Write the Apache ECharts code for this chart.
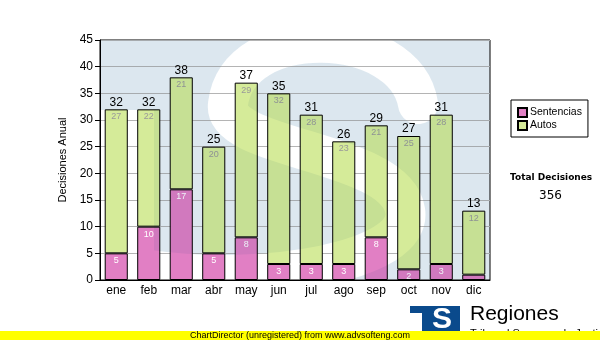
<!DOCTYPE html>
<html>
<head>
<meta charset="utf-8">
<script src="https://cdn.jsdelivr.net/npm/echarts@6/dist/echarts.min.js"></script>
<style>
html,body{margin:0;padding:0;background:#fff;}
#chart{width:600px;height:340px;}
</style>
</head>
<body>
<div id="chart"></div>
<script>
// Decisiones anuales por mes
const months = ['ene','feb','mar','abr','may','jun','jul','ago','sep','oct','nov','dic'];
const sentencias = [5, 10, 17, 5, 8, 3, 3, 3, 8, 2, 3, 1];
const autos = [27, 22, 21, 20, 29, 32, 28, 23, 21, 25, 28, 12];
const yTicks = [0, 5, 10, 15, 20, 25, 30, 35, 40, 45];

const totals = months.map((m, i) => sentencias[i] + autos[i]);
const grandTotal = totals.reduce((a, b) => a + b, 0);

const PL = 100, PT = 40, PW = 390, PH = 240;

const chart = echarts.init(document.getElementById('chart'), null, {renderer: 'canvas'});

// Light logo tint for the plot area; the white "S" is cut out of it.
// Used once under the grid and once multiplied over the bars.
function buildTint() {
  const cv = document.createElement('canvas');
  cv.width = PW; cv.height = PH;
  const ctx = cv.getContext('2d');
  ctx.fillStyle = '#edf3f7';
  ctx.fillRect(0, 0, PW, PH);
  ctx.globalCompositeOperation = 'destination-out';
  ctx.translate(-PL, -PT);
  ctx.fillStyle = '#000';
  ctx.fillRect(PL, 110, 54, 170);
  ctx.strokeStyle = '#000';
  ctx.lineWidth = 40;
  ctx.lineCap = 'round';
  ctx.beginPath();
  ctx.moveTo(418, 104);
  ctx.bezierCurveTo(405, 25, 238, 20, 228, 104);
  ctx.bezierCurveTo(222, 150, 395, 150, 405, 210);
  ctx.bezierCurveTo(415, 262, 260, 286, 150, 270);
  ctx.stroke();
  return cv;
}
const tint = buildTint();

const option = {
  animation: false,
  textStyle: {fontFamily: 'Liberation Sans, Arial, sans-serif'},
  grid: {left: PL, top: PT, width: PW, height: PH, show: true, borderColor: '#000', borderWidth: 1, backgroundColor: 'transparent', containLabel: false},
  legend: {
    data: ['Sentencias', 'Autos'],
    orient: 'vertical',
    left: 511, top: 100,
    padding: [7, 6, 6, 6],
    itemGap: 2,
    itemWidth: 9, itemHeight: 9,
    borderColor: '#000', borderWidth: 1, backgroundColor: '#fff',
    icon: 'rect',
    textStyle: {fontFamily: 'Liberation Sans, Arial, sans-serif', fontSize: 10.5, color: '#000', padding: [0, 0, 0, -2]}
  },
  xAxis: {
    type: 'category', data: months,
    axisLine: {lineStyle: {color: '#000', width: 1}},
    axisTick: {alignWithLabel: true, length: 5, lineStyle: {color: '#000'}},
    axisLabel: {color: '#000', fontSize: 12, margin: 5}
  },
  yAxis: {
    type: 'value', min: 0, max: 45, interval: 5,
    name: 'Decisiones Anual', nameLocation: 'middle', nameGap: 21, nameRotate: 90,
    nameTextStyle: {color: '#000', fontSize: 11},
    axisLine: {show: true, lineStyle: {color: '#000'}},
    axisTick: {show: true, length: 5, lineStyle: {color: '#000'}},
    axisLabel: {color: '#000', fontSize: 12, margin: 7,
      formatter: v => yTicks.includes(v) ? String(v) : ''},
    splitLine: {lineStyle: {color: '#b4b4b4', width: 1}}
  },
  series: [
    {
      name: 'Sentencias', type: 'bar', stack: 'd', data: sentencias, barCategoryGap: '29%',
      itemStyle: {color: '#e17fc4', borderColor: '#000', borderWidth: 1},
      label: {show: true, position: 'insideTop', distance: 3, color: '#fff', fontSize: 9,
        formatter: p => p.value >= 2 ? String(p.value) : ''},
      z: 5
    },
    {
      name: 'Autos', type: 'bar', stack: 'd', data: autos,
      itemStyle: {color: '#d5eb99', borderColor: '#000', borderWidth: 1},
      label: {show: true, position: 'insideTop', distance: 3, color: '#999', fontSize: 9},
      z: 5
    },
    {
      name: 'Total', type: 'bar', stack: 'd', data: totals.map(() => 0),
      itemStyle: {color: 'transparent', borderWidth: 0},
      label: {show: true, position: 'top', distance: 1, color: '#000', fontSize: 12,
        formatter: p => String(totals[p.dataIndex])},
      z: 6
    }
  ],
  graphic: [
    {type: 'image', style: {image: tint, x: PL, y: PT, width: PW, height: PH}, z: -20, silent: true},
    {type: 'image', style: {image: tint, x: PL, y: PT, width: PW, height: PH, blend: 'multiply'}, z: 8, silent: true},
    {type: 'text', left: 510, top: 173, style: {text: 'Total Decisiones', font: 'bold 9px "DejaVu Sans", Verdana, sans-serif', fill: '#000'}},
    {type: 'text', left: 539, top: 190, style: {text: String(grandTotal), font: '12px "DejaVu Sans", Verdana, sans-serif', fill: '#000'}},
    // logo
    {type: 'rect', shape: {x: 410, y: 306, width: 50, height: 7}, style: {fill: '#0a4a8c'}, z: 20},
    {type: 'rect', shape: {x: 422, y: 306, width: 38, height: 26}, style: {fill: '#0a4a8c'}, z: 20},
    {type: 'text', x: 442, y: 320, style: {text: 'S', font: 'bold 30px "Liberation Sans", Arial, sans-serif', fill: '#fff', align: 'center', verticalAlign: 'middle'}, z: 21},
    {type: 'text', x: 470, y: 304, style: {text: 'Regiones', font: '21px "Liberation Sans", Arial, sans-serif', fill: '#000'}, z: 20},
    {type: 'text', x: 470, y: 328, style: {text: 'Tribunal Supremo de Justicia', font: '11px "Liberation Sans", Arial, sans-serif', fill: '#000'}, z: 20},
    // footer
    {type: 'rect', shape: {x: 0, y: 331, width: 600, height: 9}, style: {fill: '#ffff00'}, z: 30},
    {type: 'text', x: 300, y: 335.5, style: {text: 'ChartDirector (unregistered) from www.advsofteng.com', font: '9px "Liberation Sans", Arial, sans-serif', fill: '#000', align: 'center', verticalAlign: 'middle'}, z: 31}
  ]
};
chart.setOption(option);
</script>
</body>
</html>
